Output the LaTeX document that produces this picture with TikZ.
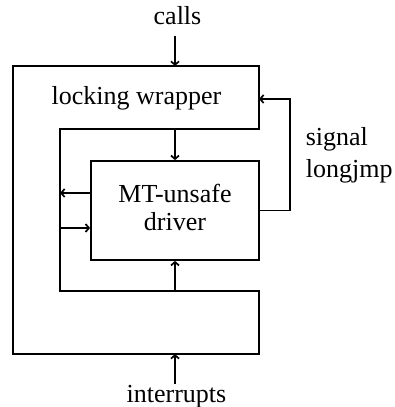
\documentclass[tikz,border=0pt]{standalone}
\usepackage{fontspec}
\setmainfont{Liberation Serif}
\usetikzlibrary{arrows.meta}

\begin{document}
\begin{tikzpicture}[x=1pt,y=1pt,line width=1.7pt,
    >={Straight Barb[length=3.5pt,width=8pt]},
    every node/.style={inner sep=0pt,font=\fontsize{26}{28}\selectfont}]
  \useasboundingbox (0,0) rectangle (394,407);

  % locking wrapper, open on the right
  \draw (13,341) -- (259,341) -- (259,278) -- (60,278) -- (60,116)
    -- (259,116) -- (259,53) -- (13,53) -- cycle;
  \coordinate (wraptop) at (175,341);
  \coordinate (wrapbot) at (175,53);
  \coordinate (wrapin) at (60,278);
  \coordinate (wrapfloor) at (60,116);
  \coordinate (sigturn) at (290,308);
  \coordinate (sigin) at (259,308);
  \node[anchor=base] (wrapper) at (136.5,302) {locking wrapper};

  \node[draw,minimum width=168pt,minimum height=99pt,align=center,
    text depth=7pt] (driver) at (175,196.5) {MT-unsafe\\driver};
  \coordinate (dout) at ([yshift=17.5pt]driver.west);
  \coordinate (din) at ([yshift=-17.5pt]driver.west);

  \node[anchor=base] (calls) at (177.5,382) {calls};
  \node[anchor=base] (interrupts) at (176.5,5) {interrupts};
  \node[anchor=west,align=left,font=\fontsize{26}{32}\selectfont]
    (signal) at (305,252) {signal\\longjmp};

  \draw[->,shorten <=10pt] (calls.south -| wraptop) -- (wraptop);
  \draw[->] (wrapin -| driver.north) -- (driver.north);
  \draw[->] (dout) -- (dout -| wrapin);
  \draw[->] (din -| wrapin) -- (din);
  \draw[->] (wrapfloor -| driver.south) -- (driver.south);
  \draw[->] (interrupts.north -| wrapbot) -- (wrapbot);
  \draw[->] (driver.east) -| (sigturn) -- (sigin);
\end{tikzpicture}
\end{document}
